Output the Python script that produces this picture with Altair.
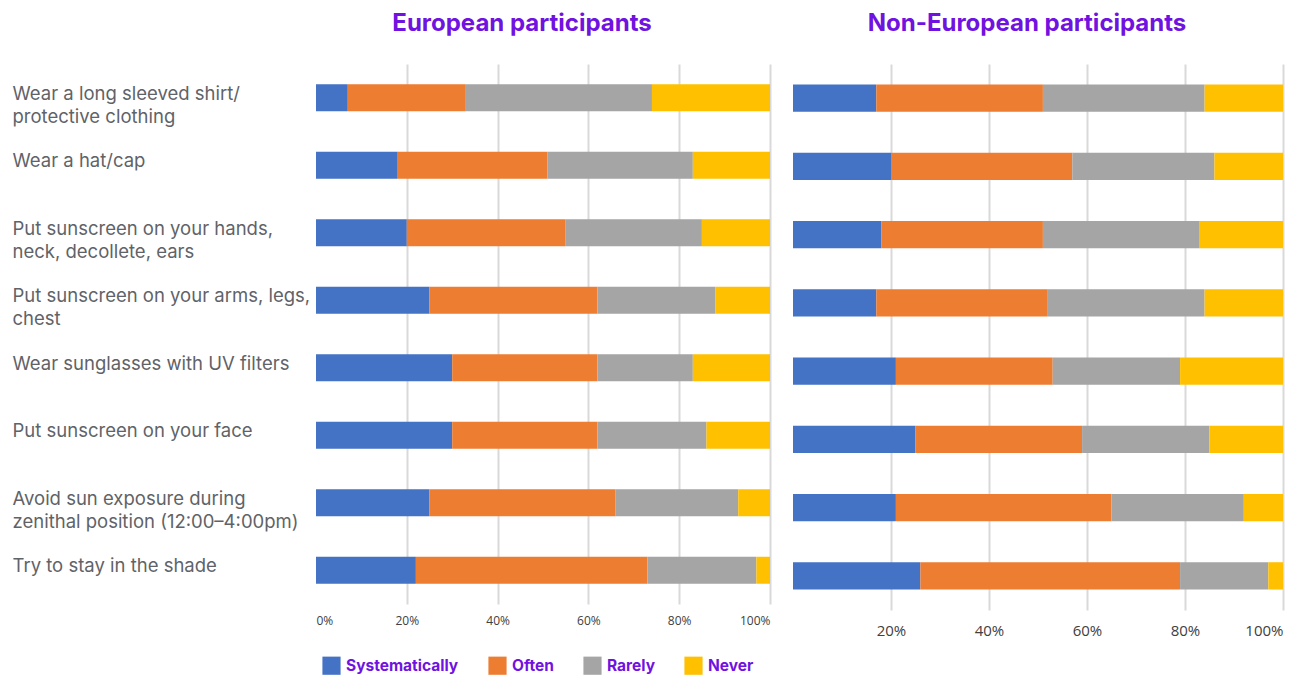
import altair as alt
import pandas as pd

items = [
    "Wear a long sleeved shirt/|protective clothing",
    "Wear a hat/cap",
    "Put sunscreen on your hands,|neck, decollete, ears",
    "Put sunscreen on your arms, legs,|chest",
    "Wear sunglasses with UV filters",
    "Put sunscreen on your face",
    "Avoid sun exposure during|zenithal position (12:00–4:00pm)",
    "Try to stay in the shade",
]
levels = ["Systematically", "Often", "Rarely", "Never"]
colors = ["#4472C4", "#ED7D31", "#A5A5A5", "#FFC000"]

eu_systematically = [7, 18, 20, 25, 30, 30, 25, 22]
eu_often = [26, 33, 35, 37, 32, 32, 41, 51]
eu_rarely = [41, 32, 30, 26, 21, 24, 27, 24]
eu_never = [26, 17, 15, 12, 17, 14, 7, 3]

non_systematically = [17, 20, 18, 17, 21, 25, 21, 26]
non_often = [34, 37, 33, 35, 32, 34, 44, 53]
non_rarely = [33, 29, 32, 32, 26, 26, 27, 18]
non_never = [16, 14, 17, 16, 21, 15, 8, 3]

rows = []
for panel, series in [
    ("European", [eu_systematically, eu_often, eu_rarely, eu_never]),
    ("Non-European", [non_systematically, non_often, non_rarely, non_never]),
]:
    for li, (lev, vals) in enumerate(zip(levels, series)):
        for it, v in zip(items, vals):
            rows.append({"panel": panel, "item": it, "level": lev, "ord": li, "value": v})
df = pd.DataFrame(rows)

PURPLE = "#7012E0"
FONT = "Inter"

color = alt.Color(
    "level:N",
    scale=alt.Scale(domain=levels, range=colors),
    legend=alt.Legend(
        title=None,
        orient="none",
        legendX=6,
        legendY=592,
        direction="horizontal",
        symbolType="square",
        symbolSize=330,
        symbolStrokeWidth=0,
        labelFont=FONT,
        labelFontSize=15.5,
        labelFontWeight="bold",
        labelColor=PURPLE,
        labelOffset=5,
        columnPadding=29,
    ),
)


def panel(name, title, width, height, show_y, xvalues, xlabel_size, xlabel_pad, title_dx):
    y_axis = (
        alt.Axis(
            title=None,
            domain=False,
            ticks=False,
            labelAlign="left",
            labelBaseline="top",
            labelPadding=304,
            labelOffset=-13,
            labelLimit=300,
            labelFont=FONT,
            labelFontSize=18.5,
            labelColor="#5F6368",
            labelLineHeight=23,
            labelExpr="split(datum.label, '|')",
        )
        if show_y
        else None
    )
    return (
        alt.Chart(df[df.panel == name])
        .mark_bar()
        .encode(
            x=alt.X(
                "value:Q",
                stack="zero",
                scale=alt.Scale(domain=[0, 100], nice=False),
                axis=alt.Axis(
                    title=None,
                    values=xvalues,
                    domain=False,
                    ticks=False,
                    labelExpr="datum.value + '%'",
                    labelFontSize=xlabel_size,
                    labelColor="#404040",
                    labelFont="Open Sans",
                    labelPadding=xlabel_pad,
                    grid=True,
                    gridColor=alt.condition("datum.value == 0", alt.value("transparent"), alt.value("#D9D9D9")),
                    gridWidth=2,
                ),
            ),
            y=alt.Y(
                "item:N",
                sort=items,
                scale=alt.Scale(paddingInner=0.6, paddingOuter=0.3),
                axis=y_axis,
            ),
            color=color,
            order=alt.Order("ord:Q"),
        )
        .properties(
            width=width,
            height=height,
            title=alt.TitleParams(
                title,
                font=FONT,
                fontSize=24,
                fontWeight="bold",
                color=PURPLE,
                baseline="alphabetic",
                offset=9,
                dx=title_dx,
            ),
        )
    )


left = panel("European", "European participants", 454, 540, True,
             [0, 20, 40, 60, 80, 100], 12, 11, -21)
right = panel("Non-European", "Non-European participants", 490, 546, False,
              [20, 40, 60, 80, 100], 15, 13, -11)

chart = (
    alt.hconcat(left, right, spacing=23, bounds="flush")
    .properties(padding={"left": 4, "top": 4, "right": 5, "bottom": 0})
    .configure_view(stroke=None)
)

chart.save("out.html", embed_options={"renderer": "svg", "actions": False})
